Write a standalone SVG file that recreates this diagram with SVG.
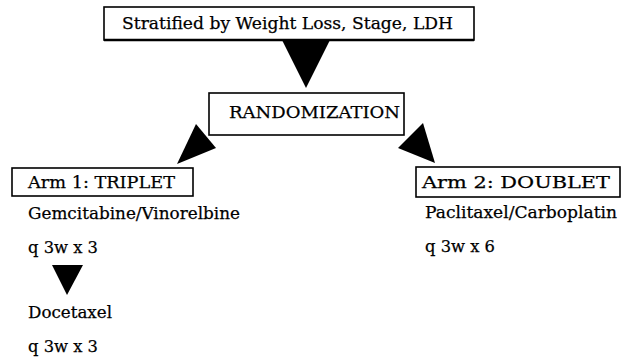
<svg xmlns="http://www.w3.org/2000/svg" width="629" height="360" viewBox="0 0 629 360">
<style>
.box{fill:#fff;stroke:#000;stroke-width:1.6}
.t{font-family:'DejaVu Serif','Liberation Serif','Times New Roman',serif;font-size:17.5px;fill:#000;stroke:#000;stroke-width:0.25}
.arr{fill:#000;stroke:none}
</style>
<rect width="629" height="360" fill="#fff"/>
<g id="connectors">
<polygon class="arr" points="282,40 330,40 306,88"/>
<polygon class="arr" points="196,124 216,148 177,164"/>
<polygon class="arr" points="423,123 398,148 435,163"/>
<polygon class="arr" points="52,265 83,265 67,295"/>
</g>
<g id="stratified">
<rect class="box" x="104" y="7" width="370" height="33"/>
<line x1="104" y1="40" x2="474" y2="40" stroke="#000" stroke-width="2.5"/>
<text class="t" x="122" y="29" textLength="331" lengthAdjust="spacingAndGlyphs">Stratified by Weight Loss, Stage, LDH</text>
</g>
<g id="randomization">
<rect class="box" x="209" y="93" width="195" height="42"/>
<text class="t" x="229" y="118" textLength="171" lengthAdjust="spacingAndGlyphs">RANDOMIZATION</text>
</g>
<g id="arm1">
<rect class="box" x="12" y="168" width="181" height="28"/>
<text class="t" x="28" y="188" textLength="147" lengthAdjust="spacingAndGlyphs">Arm 1: TRIPLET</text>
</g>
<g id="arm2">
<rect class="box" x="416" y="167" width="204" height="30"/>
<text class="t" x="422" y="188" textLength="188" lengthAdjust="spacingAndGlyphs">Arm 2: DOUBLET</text>
</g>
<g id="arm1-text">
<text class="t" x="28" y="219" textLength="212" lengthAdjust="spacingAndGlyphs">Gemcitabine/Vinorelbine</text>
<text class="t" x="28" y="253" textLength="70" lengthAdjust="spacingAndGlyphs">q 3w x 3</text>
<text class="t" x="28" y="318" textLength="84" lengthAdjust="spacingAndGlyphs">Docetaxel</text>
<text class="t" x="28" y="352" textLength="70" lengthAdjust="spacingAndGlyphs">q 3w x 3</text>
</g>
<g id="arm2-text">
<text class="t" x="425" y="218" textLength="192" lengthAdjust="spacingAndGlyphs">Paclitaxel/Carboplatin</text>
<text class="t" x="425" y="252" textLength="70" lengthAdjust="spacingAndGlyphs">q 3w x 6</text>
</g>
</svg>
